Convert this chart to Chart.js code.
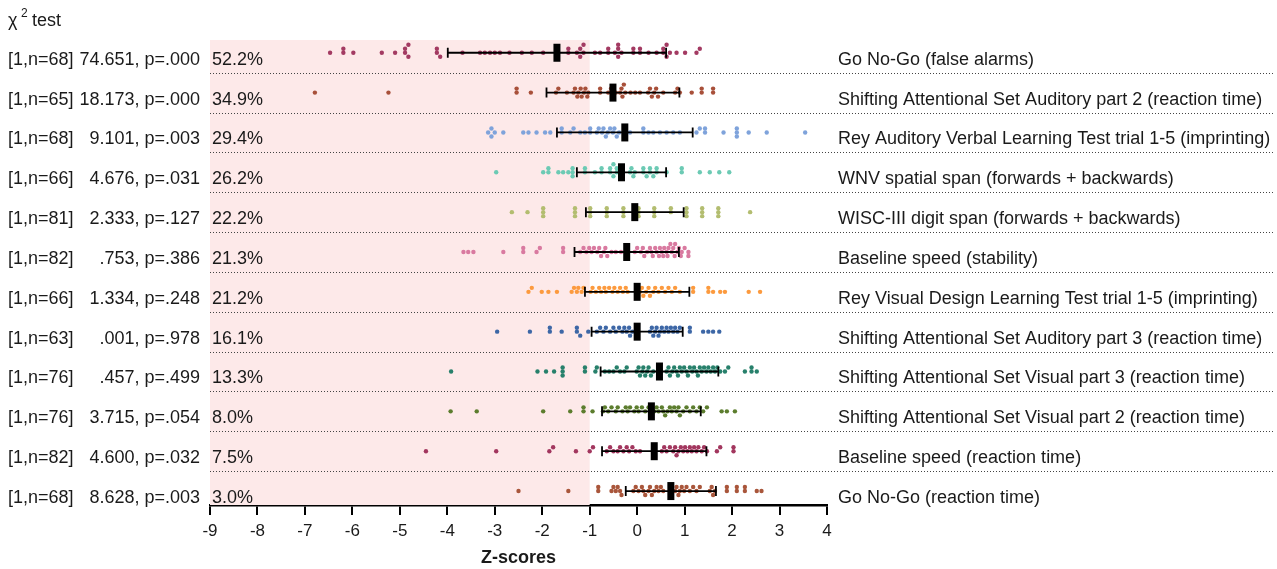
<!DOCTYPE html>
<html>
<head>
<meta charset="utf-8">
<script src="https://cdn.jsdelivr.net/npm/chart.js@4"></script>
<style>
  body { margin: 0; background: #fff; }
  #wrap { width: 1277px; height: 569px; position: relative; }
</style>
</head>
<body>
<div id="wrap"><canvas id="swarmChart"></canvas></div>
<script>
// row labels
const tests = [
  "Go No-Go (false alarms)",
  "Shifting Attentional Set Auditory part 2 (reaction time)",
  "Rey Auditory Verbal Learning Test trial 1-5 (imprinting)",
  "WNV spatial span (forwards + backwards)",
  "WISC-III digit span (forwards + backwards)",
  "Baseline speed (stability)",
  "Rey Visual Design Learning Test trial 1-5 (imprinting)",
  "Shifting Attentional Set Auditory part 3 (reaction time)",
  "Shifting Attentional Set Visual part 3 (reaction time)",
  "Shifting Attentional Set Visual part 2 (reaction time)",
  "Baseline speed (reaction time)",
  "Go No-Go (reaction time)"
];
const chiDf = ["[1,n=68]", "[1,n=65]", "[1,n=68]", "[1,n=66]", "[1,n=81]", "[1,n=82]",
  "[1,n=66]", "[1,n=63]", "[1,n=76]", "[1,n=76]", "[1,n=82]", "[1,n=68]"];
const chiStats = ["74.651, p=.000", "18.173, p=.000", "9.101, p=.003", "4.676, p=.031",
  "2.333, p=.127", ".753, p=.386", "1.334, p=.248", ".001, p=.978", ".457, p=.499",
  "3.715, p=.054", "4.600, p=.032", "8.628, p=.003"];
const belowPct = ["52.2%", "34.9%", "29.4%", "26.2%", "22.2%", "21.3%", "21.2%", "16.1%",
  "13.3%", "8.0%", "7.5%", "3.0%"];

// z-scores per row
const zGoNoGoFA = [-6.47,-6.19,-6.19,-5.98,-5.38,-5.10,-4.89,-4.89,-4.82,-4.82,-4.22,-4.22,-4.15,-3.68,-3.31,-3.21,-3.10,-3.00,-2.89,-2.69,-2.43,-2.22,-1.98,-1.45,-1.45,-1.27,-1.20,-1.20,-1.13,-1.13,-0.89,-0.78,-0.61,-0.61,-0.47,-0.40,-0.40,-0.40,-0.33,-0.08,-0.08,0.06,0.06,0.24,0.41,0.55,0.55,0.62,0.62,0.69,0.83,1.01,1.25,1.32];
const zSASAud2 = [-6.79,-5.24,-2.54,-2.54,-2.24,-1.71,-1.66,-1.48,-1.34,-1.31,-1.26,-1.24,-1.19,-1.17,-1.12,-1.09,-1.05,-1.03,-0.78,-0.78,-0.61,-0.55,-0.45,-0.36,-0.33,-0.31,-0.28,-0.25,-0.14,-0.04,0.06,0.23,0.27,0.31,0.36,0.40,0.44,0.55,0.80,0.85,0.90,1.15,1.36,1.36,1.60,1.60];
const zRAVLT = [-3.14,-3.07,-3.07,-3.00,-2.82,-2.40,-2.29,-2.12,-1.94,-1.83,-1.59,-1.59,-1.41,-1.34,-1.20,-1.10,-0.99,-0.99,-0.85,-0.81,-0.74,-0.71,-0.66,-0.62,-0.57,-0.51,-0.48,-0.43,-0.38,-0.15,0.13,0.13,0.24,0.34,0.48,0.62,0.76,0.90,1.25,1.32,1.43,1.43,1.82,2.10,2.10,2.10,2.35,2.73,3.54];
const zWNV = [-2.97,-1.98,-1.87,-1.87,-1.66,-1.56,-1.45,-1.36,-1.36,-1.36,-1.10,-1.10,-0.89,-0.75,-0.75,-0.57,-0.57,-0.50,-0.50,-0.43,-0.43,-0.15,-0.12,-0.08,-0.05,0.13,0.13,0.20,0.27,0.27,0.34,0.41,0.41,0.62,0.94,0.94,1.32,1.53,1.73,1.94];
const zWISC = [-2.64,-2.31,-1.98,-1.98,-1.98,-1.31,-1.31,-1.31,-0.99,-0.99,-0.99,-0.64,-0.64,-0.64,-0.29,-0.29,-0.29,0.03,0.03,0.03,0.36,0.36,0.36,0.71,0.71,1.04,1.04,1.04,1.37,1.37,1.37,1.71,1.71,1.71,2.38];
const zBaseStab = [-3.66,-3.56,-3.45,-2.82,-2.40,-2.40,-2.12,-2.05,-1.56,-1.56,-1.20,-1.13,-1.07,-1.01,-0.96,-0.91,-0.84,-0.80,-0.76,-0.70,-0.67,-0.63,-0.54,-0.45,-0.34,-0.05,0.00,0.08,0.12,0.15,0.21,0.27,0.30,0.33,0.38,0.41,0.46,0.48,0.52,0.55,0.57,0.62,0.64,0.66,0.70,0.73,0.76,0.79,0.80,0.85,0.88,0.92,0.94,1.00,1.08,1.08];
const zRVDLT = [-2.29,-2.22,-2.01,-1.87,-1.69,-1.38,-1.33,-1.27,-1.24,-1.17,-1.13,-0.98,-0.94,-0.87,-0.80,-0.76,-0.69,-0.66,-0.59,-0.52,-0.48,-0.41,-0.36,-0.30,-0.24,-0.20,0.06,0.10,0.13,0.19,0.24,0.27,0.34,0.38,0.45,0.52,0.59,0.66,0.73,0.80,0.90,1.18,1.18,1.50,1.50,1.60,1.75,1.85,2.35,2.59];
const zSASAud3 = [-2.95,-2.26,-1.84,-1.84,-1.59,-1.27,-1.27,-1.20,-1.03,-0.85,-0.78,-0.71,-0.66,-0.57,-0.50,-0.45,-0.38,-0.31,-0.27,-0.22,-0.17,-0.15,-0.10,0.27,0.31,0.34,0.38,0.41,0.45,0.48,0.52,0.57,0.62,0.66,0.71,0.76,0.80,0.85,0.90,1.11,1.11,1.39,1.50,1.60,1.73];
const zSASVis3 = [-3.92,-2.10,-1.92,-1.75,-1.57,-1.57,-1.57,-1.10,-1.10,-0.88,-0.85,-0.68,-0.59,-0.50,-0.43,-0.36,-0.27,-0.22,-0.01,0.03,0.06,0.11,0.13,0.17,0.21,0.24,0.29,0.34,0.62,0.66,0.69,0.74,0.78,0.83,0.86,0.90,0.94,0.99,1.04,1.07,1.11,1.16,1.20,1.25,1.28,1.32,1.36,1.41,1.46,1.50,1.55,1.60,1.64,1.69,1.75,1.85,1.92,2.27,2.41,2.41,2.52];
const zSASVis2 = [-3.93,-3.38,-1.98,-1.41,-1.13,-1.13,-0.94,-0.72,-0.68,-0.61,-0.54,-0.45,-0.41,-0.31,-0.24,-0.20,-0.15,-0.06,-0.01,0.03,0.10,0.17,0.24,0.27,0.36,0.41,0.45,0.52,0.55,0.59,0.64,0.69,0.73,0.78,0.83,0.87,0.90,0.97,1.04,1.11,1.18,1.25,1.32,1.39,1.47,1.78,1.89,2.06];
const zBaseRT = [-4.45,-2.97,-1.85,-1.77,-1.29,-1.00,-0.93,-0.64,-0.57,-0.50,-0.41,-0.36,-0.29,-0.22,-0.17,-0.10,-0.03,0.06,0.52,0.57,0.62,0.69,0.76,0.80,0.83,0.87,0.92,0.97,1.01,1.06,1.11,1.15,1.20,1.25,1.29,1.36,1.41,1.47,1.68,1.75,2.03,2.03];
const zGoNoGoRT = [-2.50,-1.45,-0.82,-0.82,-0.54,-0.50,-0.45,-0.41,-0.36,-0.33,-0.08,-0.03,0.03,0.10,0.13,0.17,0.24,0.27,0.31,0.36,0.41,0.45,0.50,0.55,0.80,0.83,0.87,0.90,0.94,0.99,1.04,1.11,1.18,1.25,1.32,1.53,1.57,1.60,1.64,1.89,1.89,2.10,2.10,2.27,2.27,2.52,2.62];

const means = [-1.69, -0.51, -0.26, -0.33, -0.05, -0.22, 0.00, 0.00, 0.47, 0.30, 0.36, 0.71];
const sds = [2.30, 1.40, 1.43, 0.94, 1.03, 1.10, 1.10, 0.96, 1.24, 1.04, 1.10, 0.95];

const allRows = [zGoNoGoFA, zSASAud2, zRAVLT, zWNV, zWISC, zBaseStab, zRVDLT, zSASAud3,
  zSASVis3, zSASVis2, zBaseRT, zGoNoGoRT];
const colors = ["#a33a62", "#a8503a", "#7fa3db", "#6ccab4", "#b3bd70", "#d97aa0",
  "#fc9a3e", "#3d67a6", "#27806b", "#5c7d2e", "#a2365e", "#a9563b"];

const FONT = "'Liberation Sans', Arial, sans-serif";
const PX_X = 617 / 13, PX_Y = 39.9;

// simple beeswarm so the dots in a row don't sit on top of each other
function swarm(xs, row) {
  const placed = [];
  return xs.slice().sort((a, b) => a - b).map(x => {
    let off = 0;
    for (const c of [0, -4, 4, -8, 8]) {
      const hit = placed.some(p => Math.abs((p.x - x) * PX_X) < 3.8 && Math.abs(p.o - c) < 3.8);
      if (!hit) { off = c; break; }
    }
    placed.push({ x: x, o: off });
    return { x: x, y: row + off / PX_Y };
  });
}

const datasets = allRows.map((r, i) => ({
  data: swarm(r, i),
  backgroundColor: colors[i],
  borderWidth: 0,
  pointRadius: 2.2,
}));

const decor = {
  id: "decor",
  beforeDatasetsDraw(chart) {
    const { ctx, chartArea, scales } = chart;
    const x = scales.x, y = scales.y;
    ctx.save();
    // shaded z < -1 zone
    ctx.fillStyle = "#fde9e9";
    ctx.fillRect(x.getPixelForValue(-9), chartArea.top,
      x.getPixelForValue(-1) - x.getPixelForValue(-9), chartArea.bottom - chartArea.top);
    // dotted separators
    ctx.strokeStyle = "#444";
    ctx.lineWidth = 1;
    ctx.setLineDash([1, 2]);
    for (let i = 0; i < tests.length - 1; i++) {
      const yy = Math.round(y.getPixelForValue(i + 0.5)) + 0.5;
      ctx.beginPath();
      ctx.moveTo(chartArea.left, yy);
      ctx.lineTo(1275, yy);
      ctx.stroke();
    }
    ctx.restore();
  },
  afterDatasetsDraw(chart) {
    const { ctx, scales } = chart;
    const x = scales.x, y = scales.y;
    ctx.save();
    ctx.strokeStyle = "#000";
    ctx.fillStyle = "#000";
    ctx.lineWidth = 1.8;
    means.forEach((m, i) => {
      const yy = y.getPixelForValue(i);
      const x1 = x.getPixelForValue(m - sds[i]), x2 = x.getPixelForValue(m + sds[i]);
      ctx.beginPath();
      ctx.moveTo(x1, yy); ctx.lineTo(x2, yy);
      ctx.moveTo(x1, yy - 5); ctx.lineTo(x1, yy + 5);
      ctx.moveTo(x2, yy - 5); ctx.lineTo(x2, yy + 5);
      ctx.stroke();
      const xm = x.getPixelForValue(m);
      ctx.fillRect(xm - 3.5, yy - 9, 7, 18);
    });
    ctx.restore();
  },
  afterDraw(chart) {
    const { ctx, scales } = chart;
    const y = scales.y;
    ctx.save();
    ctx.fillStyle = "#1a1a1a";
    ctx.textBaseline = "middle";
    ctx.font = "18px " + FONT;
    tests.forEach((t, i) => {
      const yy = y.getPixelForValue(i) + 7;
      ctx.textAlign = "left";
      ctx.fillText(chiDf[i], 8, yy);
      ctx.fillText(belowPct[i], 212, yy);
      ctx.fillText(t, 838, yy);
      ctx.textAlign = "right";
      ctx.fillText(chiStats[i], 200, yy);
    });
    // chi-square heading
    ctx.textAlign = "left";
    ctx.fillText("\u03c7", 8, 21);
    ctx.font = "12px " + FONT;
    ctx.fillText("2", 21, 14);
    ctx.font = "18px " + FONT;
    ctx.fillText("test", 32, 21);
    ctx.restore();
  }
};

new Chart(document.getElementById("swarmChart"), {
  type: "scatter",
  data: { datasets: datasets },
  options: {
    responsive: true,
    maintainAspectRatio: false,
    animation: false,
    layout: { padding: { left: 210, right: 450, top: 40, bottom: 0 } },
    plugins: { legend: { display: false }, tooltip: { enabled: false } },
    scales: {
      y: { display: false, reverse: true, min: -0.32, max: 11.35 },
      x: {
        min: -9,
        max: 4,
        ticks: { stepSize: 1, color: "#1a1a1a", font: { family: FONT, size: 17 }, padding: 6 },
        border: { color: "#000", width: 2.5 },
        grid: { drawOnChartArea: false, drawTicks: true, tickLength: 10, color: "#000", lineWidth: 2 },
        title: {
          display: true, text: "Z-scores", color: "#1a1a1a",
          font: { family: FONT, size: 18, weight: "bold" },
          padding: { top: 0, bottom: 0 }
        }
      }
    }
  },
  plugins: [decor]
});
</script>
</body>
</html>
